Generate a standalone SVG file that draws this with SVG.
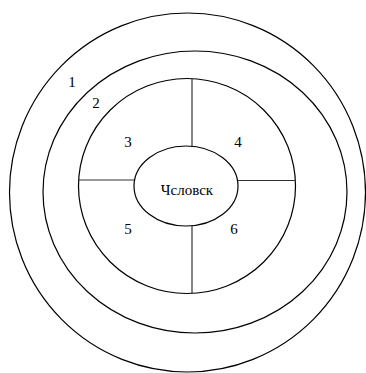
<svg xmlns="http://www.w3.org/2000/svg" width="366" height="373" viewBox="0 0 366 373">
<style>
.ring{fill:none;stroke:#000;stroke-width:1.2}
.ln{stroke:#333;stroke-width:1.2}
.t{font-family:'Liberation Serif','Times New Roman',Times,serif;font-size:15px;fill:#000;text-anchor:middle}
</style>
<rect width="366" height="373" fill="#fff"/>
<g id="ring1"><ellipse class="ring" cx="187.5" cy="192.5" rx="178" ry="179.5"/><text class="t" x="72" y="87">1</text></g>
<g id="ring2"><ellipse class="ring" cx="195" cy="192" rx="152" ry="141"/><text class="t" x="96" y="108">2</text></g>
<g id="ring3"><ellipse class="ring" cx="187" cy="186" rx="108.5" ry="107.5"/></g>
<g id="connectors">
<line class="ln" x1="192" y1="78.5" x2="192" y2="146"/>
<line class="ln" x1="192" y1="226" x2="192" y2="293.5"/>
<line class="ln" x1="78.5" y1="180" x2="135" y2="180"/>
<line class="ln" x1="238" y1="180.5" x2="295.5" y2="180.5"/>
</g>
<g id="q3"><text class="t" x="128" y="147">3</text></g>
<g id="q4"><text class="t" x="238" y="147">4</text></g>
<g id="q5"><text class="t" x="128" y="234">5</text></g>
<g id="q6"><text class="t" x="234" y="234">6</text></g>
<g id="center"><ellipse class="ring" cx="186" cy="186" rx="52" ry="40"/><text class="t" x="187" y="195">Чсловск</text></g>
</svg>
